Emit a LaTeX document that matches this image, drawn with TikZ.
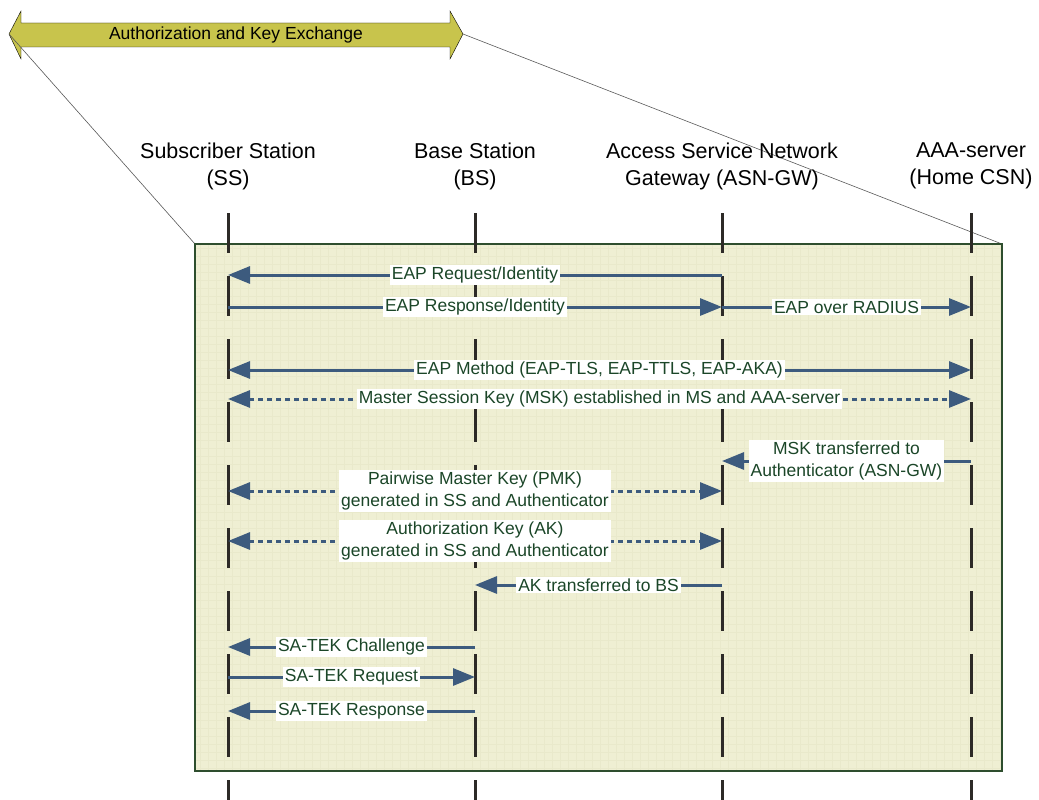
\documentclass[tikz,border=0pt]{standalone}
\usepackage{fontspec}
\setmainfont{Liberation Sans}
\usetikzlibrary{arrows.meta}

\definecolor{msgblue}{HTML}{3D5B7E}
\definecolor{lbltext}{HTML}{1B4628}
\definecolor{boxfill}{HTML}{EFEFD3}
\definecolor{boxline}{HTML}{2E4E2E}
\definecolor{gridline}{HTML}{E9E9CB}
\definecolor{phasefill}{HTML}{C8C44C}

\tikzset{
  head/.style={align=center, font=\fontsize{21.5}{27}\selectfont},
  lbl/.style={fill=white, text=lbltext, inner sep=2pt, align=center,
    font=\fontsize{17.5}{22}\selectfont},
  msg/.style={draw=msgblue, line width=3pt, -{Triangle[length=22pt,width=17pt]}},
  both/.style={msg, {Triangle[length=22pt,width=17pt]}-{Triangle[length=22pt,width=17pt]}},
  keymsg/.style={both, dash pattern=on 5pt off 4pt},
  lifeline/.style={line width=3pt, black!90!olive, dash pattern=on 40pt off 23pt},
}

\begin{document}
\begin{tikzpicture}[x=1pt, y=-1pt]
        \useasboundingbox (0,0) rectangle (1039,800);

        \coordinate (frameNW) at (195,244);
        \coordinate (frameSE) at (1002,771);
        \coordinate (tipL) at (9,34);
        \coordinate (tipR) at (463,34);

        % Phase banner
        \draw[thin, fill=phasefill] (tipL) -- (21,11) -- (21,23) -- (450,23) -- (450,11)
            -- (tipR) -- (450,59) -- (450,47) -- (21,47) -- (21,59) -- cycle;
        \node[font=\fontsize{17.5}{22}\selectfont] (phase) at (236,35) {Authorization and Key Exchange};
        \draw[black!65, line width=0.6pt] (tipL) -- (frameNW);
        \draw[black!65, line width=0.6pt] (tipR) -- (frameNW -| frameSE);

        % Frame
        \fill[boxfill] (frameNW) rectangle (frameSE);
        \draw[gridline, line width=0.4pt, step=8pt] (frameNW) grid (frameSE);
        \draw[boxline, line width=1.2pt] (frameNW) rectangle (frameSE);

        % Entities and lifelines
        \foreach \n/\x/\t in {ss/228/{Subscriber Station\\(SS)}, bs/475/{Base Station\\(BS)},
                gw/722/{Access Service Network\\Gateway (ASN-GW)}, aaa/971/{AAA-server\\(Home CSN)}} {
            \node[head] (\n) at (\x,166) {\t};
            \coordinate (\n-top) at (\x,213);
            \coordinate (\n-end) at (\x,800);
            \draw[lifeline] (\n-top) -- (\n-end);
        }

        % Rows
        \foreach \r/\y in {1/275, 2/307, 3/370, 4/399, 5/461, 6/491, 7/541, 8/585, 9/647, 10/677, 11/711}
            \coordinate (r\r) at (0,\y);

        % Messages
        \draw[msg] (gw |- r1) -- node[lbl] {EAP Request/Identity} (ss |- r1);
        \draw[msg] (ss |- r2) -- node[lbl] {EAP Response/Identity} (gw |- r2);
        \draw[msg] (gw |- r2) -- node[lbl] {EAP over RADIUS} (aaa |- r2);
        \draw[both] (ss |- r3) -- node[lbl] {EAP Method (EAP-TLS, EAP-TTLS, EAP-AKA)} (aaa |- r3);
        \draw[keymsg] (ss |- r4) -- node[lbl] {Master Session Key (MSK) established in MS and AAA-server} (aaa |- r4);
        \draw[msg] (aaa |- r5) -- node[lbl] {MSK transferred to\\Authenticator (ASN-GW)} (gw |- r5);
        \draw[keymsg] (ss |- r6) -- node[lbl] {Pairwise Master Key (PMK)\\generated in SS and Authenticator} (gw |- r6);
        \draw[keymsg] (ss |- r7) -- node[lbl] {Authorization Key (AK)\\generated in SS and Authenticator} (gw |- r7);
        \draw[msg] (gw |- r8) -- node[lbl] {AK transferred to BS} (bs |- r8);
        \draw[msg] (bs |- r9) -- node[lbl] {SA-TEK Challenge} (ss |- r9);
        \draw[msg] (ss |- r10) -- node[lbl] {SA-TEK Request} (bs |- r10);
        \draw[msg] (bs |- r11) -- node[lbl] {SA-TEK Response} (ss |- r11);
    \end{tikzpicture}
\end{document}
